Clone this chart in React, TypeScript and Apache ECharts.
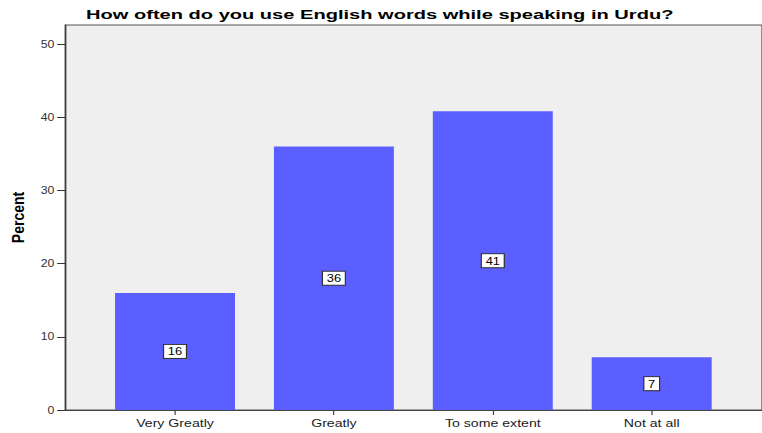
import React, { useEffect, useRef } from "react";
import * as echarts from "echarts";

const categories = ["Very Greatly", "Greatly", "To some extent", "Not at all"];
const percents = [16, 36, 40.8, 7.2];
const yTicks = [0, 10, 20, 30, 40, 50];
const titleText = "How often do you use English words while speaking in Urdu?";

const INNER_W = 620;
const STRETCH = 762 / INNER_W;

export default function App() {
  const ref = useRef<HTMLDivElement>(null);
  useEffect(() => {
    document.body.style.margin = "0";
    const chart = echarts.init(ref.current!, null, { renderer: "svg" });
    const font = "'Liberation Sans', Arial, sans-serif";
    chart.setOption({
      animation: false,
      graphic: [
        {
          type: "text",
          x: 70,
          y: 8,
          scaleX: 1.21,
          style: {
            text: titleText,
            fontFamily: font,
            fontWeight: "bold",
            fontSize: 13.5,
            fill: "#000",
            textVerticalAlign: "top",
          },
        },
      ],
      grid: [
        {
          left: 48.8,
          right: -1,
          top: 25,
          bottom: 23,
          show: true,
          backgroundColor: "#efefef",
          borderColor: "#555",
          borderWidth: 1,
        },
        {
          left: 77.75,
          right: 25.1,
          top: 25,
          bottom: 23,
          show: false,
        },
      ],
      xAxis: [
        {
          gridIndex: 0,
          type: "value",
          min: 0,
          max: 1,
          splitLine: { show: false },
          axisLine: { show: true, onZero: false, lineStyle: { color: "#444", width: 1 } },
          axisTick: { show: false },
          axisLabel: { show: false },
        },
        {
          gridIndex: 1,
          type: "category",
          data: categories,
          boundaryGap: true,
          splitLine: { show: false },
          axisLine: { show: false, onZero: false },
          axisTick: { show: true, alignWithLabel: true, length: 5, lineStyle: { color: "#444" } },
          axisLabel: {
            fontFamily: font,
            fontSize: 11.5,
            color: "#222",
            margin: 7,
          },
        },
      ],
      yAxis: [
        {
          gridIndex: 0,
          type: "value",
          min: 0,
          max: 52.6,
          name: "Percent",
          nameLocation: "middle",
          nameGap: 31,
          nameTextStyle: { fontFamily: font, fontWeight: "bold", fontSize: 14, color: "#000" },
          splitLine: { show: false },
          axisLine: { show: true, onZero: false, lineStyle: { color: "#333", width: 1 } },
          axisTick: { show: true, customValues: yTicks, length: 6.5, lineStyle: { color: "#333" } },
          axisLabel: {
            customValues: yTicks,
            fontFamily: font,
            fontSize: 10,
            color: "#333",
            margin: 8.7,
          },
        },
        {
          gridIndex: 1,
          type: "value",
          min: 0,
          max: 52.6,
          show: false,
        },
      ],
      series: [
        {
          type: "bar",
          xAxisIndex: 1,
          yAxisIndex: 1,
          barWidth: 97.6,
          data: percents,
          itemStyle: { color: "#5b5fff" },
          label: {
            show: true,
            position: "inside",
            formatter: (p: any) => String(Math.round(p.value)),
            fontFamily: font,
            fontSize: 10.5,
            lineHeight: 11,
            color: "#000",
            backgroundColor: "#fff",
            borderColor: "#333",
            borderWidth: 1,
            padding: [1, 3, 1, 3],
          },
        },
      ],
    });
    return () => chart.dispose();
  }, []);
  return (
    <div
      ref={ref}
      style={{
        width: INNER_W,
        height: 433,
        transform: `scaleX(${STRETCH})`,
        transformOrigin: "0 0",
      }}
    />
  );
}
